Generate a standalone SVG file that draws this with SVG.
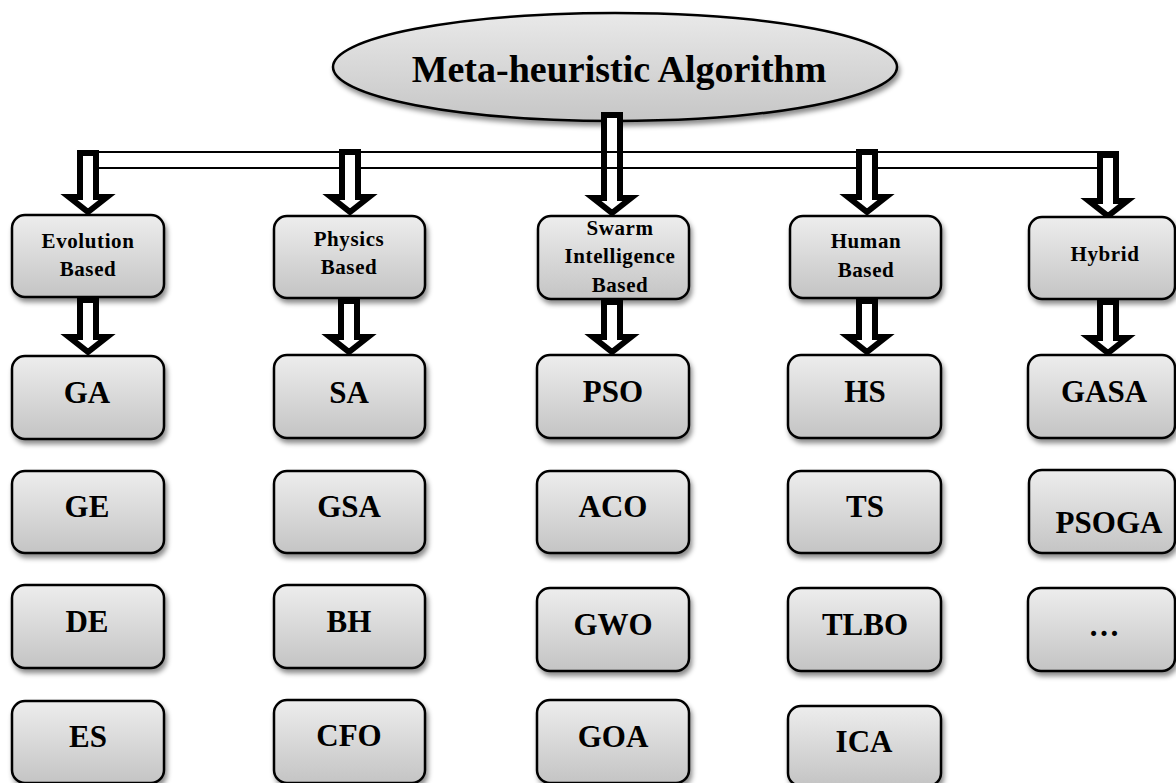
<svg xmlns="http://www.w3.org/2000/svg" width="1176" height="783" viewBox="0 0 1176 783">
<defs>
<linearGradient id="gbox" x1="0" y1="0" x2="0" y2="1">
<stop offset="0" stop-color="#ededed"/>
<stop offset="1" stop-color="#c4c4c4"/>
</linearGradient>
<linearGradient id="gell" x1="0" y1="0" x2="0" y2="1">
<stop offset="0" stop-color="#e9e9e9"/>
<stop offset="1" stop-color="#c6c6c6"/>
</linearGradient>
<filter id="sh" x="-10%" y="-10%" width="130%" height="140%">
<feDropShadow dx="2" dy="4" stdDeviation="2.5" flood-color="#000" flood-opacity="0.45"/>
</filter>
</defs>
<style>
.box{fill:url(#gbox);stroke:#000;stroke-width:2.5;filter:url(#sh)}
.ell{fill:url(#gell);stroke:#000;stroke-width:2.5;filter:url(#sh)}
.t{font-family:"Liberation Serif","Times New Roman",serif;font-weight:bold;fill:#000;text-anchor:middle}
.title{font-size:38px}
.cat{font-size:21px;letter-spacing:0.6px}
.leaf{font-size:31px}
.arr{fill:#fff;stroke:#000;stroke-width:6;stroke-linejoin:miter;stroke-miterlimit:10}
.bar{stroke:#000;stroke-width:2;fill:none}
</style>

<g id="root">
<ellipse class="ell" cx="615" cy="67" rx="282" ry="54"/>
<text class="t title" x="619" y="82">Meta-heuristic Algorithm</text>
</g>

<g id="connectors">
<!-- center arrow -->
<path class="arr" d="M604,115 L620,115 L620,198 L631,198 L612,213 L593,198 L604,198 Z"/>
<!-- hollow bar -->
<path class="bar" d="M96,152 L1119,152 M96,168 L1100,168"/>
<!-- top arrows -->
<path class="arr" d="M80,153 L96,153 L96,197 L107,197 L88,212 L69,197 L80,197 Z"/>
<path class="arr" d="M342,152 L358,152 L358,197 L369,197 L350,212 L331,197 L342,197 Z"/>
<path class="arr" d="M859,152 L875,152 L875,197 L886,197 L867,212 L848,197 L859,197 Z"/>
<path class="arr" d="M1100,155 L1116,155 L1116,201 L1127,201 L1108,216 L1089,201 L1100,201 Z"/>
</g>

<g id="evolution">
<rect class="box" x="12" y="215" width="152" height="82" rx="13"/>
<text class="t cat" x="88" y="248">Evolution</text>
<text class="t cat" x="88" y="276">Based</text>
</g>
<g id="physics">
<rect class="box" x="274" y="216" width="151" height="82" rx="13"/>
<text class="t cat" x="349" y="246">Physics</text>
<text class="t cat" x="349" y="274">Based</text>
</g>
<g id="swarm">
<rect class="box" x="538" y="216" width="151" height="83" rx="13"/>
<text class="t cat" x="620" y="235">Swarm</text>
<text class="t cat" x="620" y="263">Intelligence</text>
<text class="t cat" x="620" y="292">Based</text>
</g>
<g id="human">
<rect class="box" x="790" y="216" width="151" height="82" rx="13"/>
<text class="t cat" x="866" y="248">Human</text>
<text class="t cat" x="866" y="277">Based</text>
</g>
<g id="hybrid">
<rect class="box" x="1029" y="217" width="146" height="82" rx="13"/>
<text class="t cat" x="1105" y="261">Hybrid</text>
</g>

<g id="connectors-lower">
<path class="arr" d="M80,300 L96,300 L96,337 L107,337 L88,352 L69,337 L80,337 Z"/>
<path class="arr" d="M341,301 L357,301 L357,337 L368,337 L349,352 L330,337 L341,337 Z"/>
<path class="arr" d="M604,302 L620,302 L620,337 L631,337 L612,352 L593,337 L604,337 Z"/>
<path class="arr" d="M859,301 L875,301 L875,337 L886,337 L867,352 L848,337 L859,337 Z"/>
<path class="arr" d="M1100,302 L1116,302 L1116,338 L1127,338 L1108,353 L1089,338 L1100,338 Z"/>
</g>

<g id="GA"><rect class="box" x="12" y="356" width="152" height="83" rx="13"/><text class="t leaf" x="87" y="403">GA</text></g>
<g id="GE"><rect class="box" x="12" y="471" width="152" height="82" rx="13"/><text class="t leaf" x="87" y="517">GE</text></g>
<g id="DE"><rect class="box" x="12" y="585" width="152" height="83" rx="13"/><text class="t leaf" x="87" y="632">DE</text></g>
<g id="ES"><rect class="box" x="12" y="701" width="152" height="82" rx="13"/><text class="t leaf" x="88" y="747">ES</text></g>

<g id="SA"><rect class="box" x="274" y="355" width="151" height="83" rx="13"/><text class="t leaf" x="349" y="403">SA</text></g>
<g id="GSA"><rect class="box" x="274" y="471" width="151" height="82" rx="13"/><text class="t leaf" x="349" y="517">GSA</text></g>
<g id="BH"><rect class="box" x="274" y="585" width="151" height="83" rx="13"/><text class="t leaf" x="349" y="632">BH</text></g>
<g id="CFO"><rect class="box" x="274" y="700" width="151" height="83" rx="13"/><text class="t leaf" x="349" y="746">CFO</text></g>

<g id="PSO"><rect class="box" x="537" y="355" width="152" height="83" rx="13"/><text class="t leaf" x="613" y="402">PSO</text></g>
<g id="ACO"><rect class="box" x="537" y="471" width="152" height="82" rx="13"/><text class="t leaf" x="613" y="517">ACO</text></g>
<g id="GWO"><rect class="box" x="537" y="588" width="152" height="83" rx="13"/><text class="t leaf" x="613" y="635">GWO</text></g>
<g id="GOA"><rect class="box" x="537" y="700" width="152" height="83" rx="13"/><text class="t leaf" x="613" y="747">GOA</text></g>

<g id="HS"><rect class="box" x="788" y="355" width="153" height="83" rx="13"/><text class="t leaf" x="865" y="402">HS</text></g>
<g id="TS"><rect class="box" x="788" y="471" width="153" height="82" rx="13"/><text class="t leaf" x="865" y="517">TS</text></g>
<g id="TLBO"><rect class="box" x="788" y="588" width="153" height="83" rx="13"/><text class="t leaf" x="865" y="635">TLBO</text></g>
<g id="ICA"><rect class="box" x="788" y="706" width="153" height="80" rx="13"/><text class="t leaf" x="864" y="752">ICA</text></g>

<g id="GASA"><rect class="box" x="1028" y="355" width="147" height="83" rx="13"/><text class="t leaf" x="1104" y="402">GASA</text></g>
<g id="PSOGA"><rect class="box" x="1029" y="470" width="146" height="83" rx="13"/><text class="t leaf" x="1109" y="533">PSOGA</text></g>
<g id="more"><rect class="box" x="1028" y="588" width="147" height="83" rx="13"/><text class="t leaf" x="1104" y="636">…</text></g>
</svg>
